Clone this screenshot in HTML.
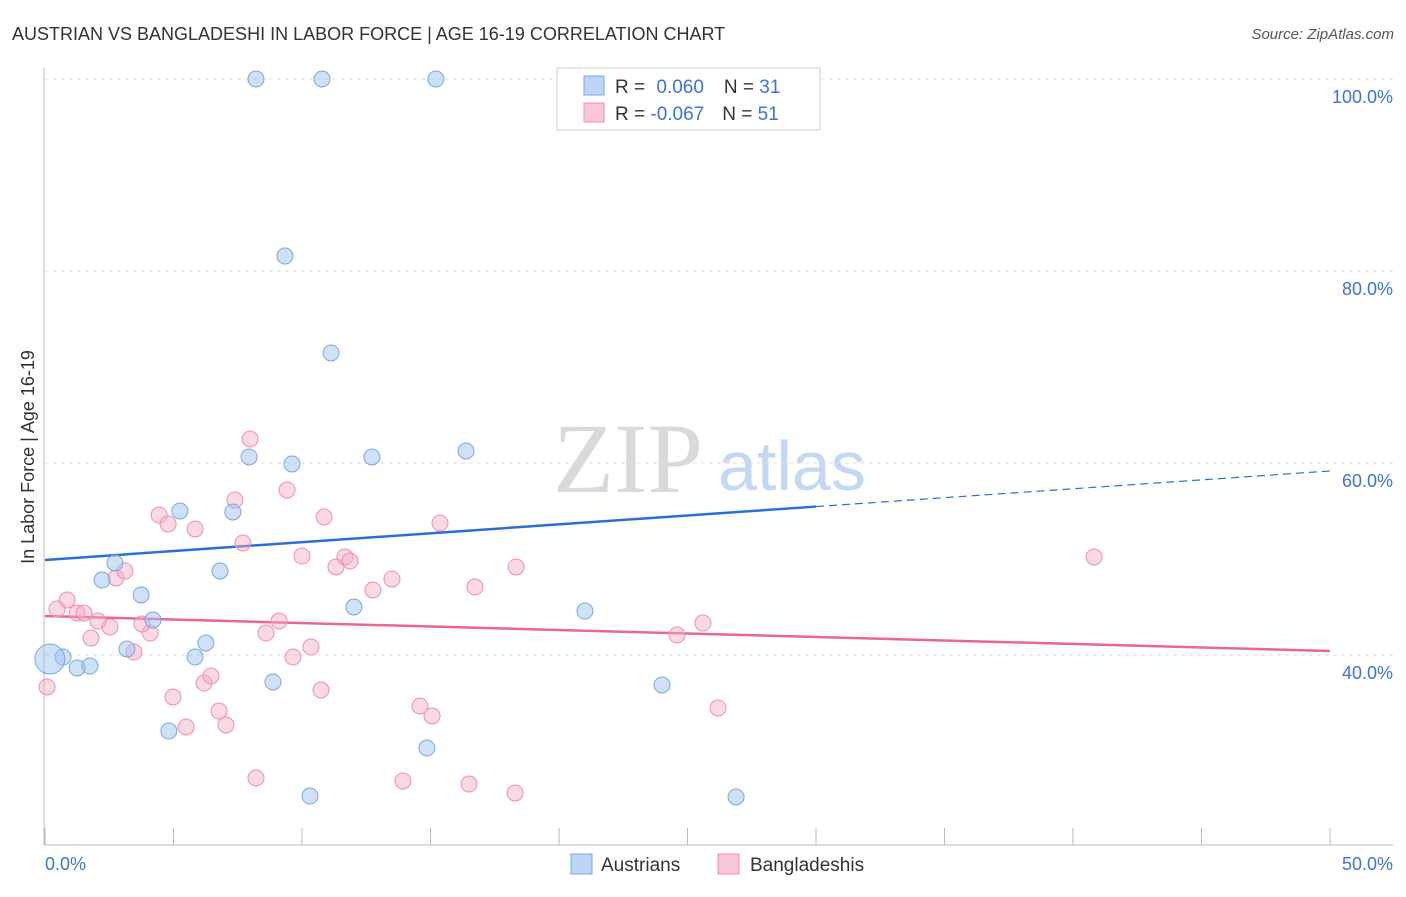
<!DOCTYPE html>
<html><head><meta charset="utf-8">
<style>
body{margin:0;background:#fff;font-family:"Liberation Sans",sans-serif;}
svg text{font-family:"Liberation Sans",sans-serif;}
</style></head>
<body>
<svg id="chart" width="1406" height="892" viewBox="0 0 1406 892" xmlns="http://www.w3.org/2000/svg">
<text x="12" y="40" font-size="18" fill="#333">AUSTRIAN VS BANGLADESHI IN LABOR FORCE | AGE 16-19 CORRELATION CHART</text>
<text x="1394" y="39" font-size="15" fill="#555" font-style="italic" text-anchor="end">Source: ZipAtlas.com</text>
<text x="34" y="457" font-size="18" fill="#333" text-anchor="middle" transform="rotate(-90 34 457)">In Labor Force | Age 16-19</text>
<g>
<text x="553" y="492" font-size="100" fill="#d9d9d9" style="font-family:'Liberation Serif',serif">ZIP</text>
<text x="718" y="490" font-size="70" fill="#c5d8f3">atlas</text>
</g>
<g id="grid"></g>
<g id="axes"></g>
<g id="trends"></g>
<g id="points"></g>
<g>
<rect x="557" y="68" width="263" height="62" fill="#fff" stroke="#ccc"/>
<rect x="584" y="76" width="20" height="19" fill="#bcd4f5" stroke="#7aa6e0"/>
<rect x="584" y="103" width="20" height="19" fill="#f9c6d5" stroke="#ee8fae"/>
<text x="615" y="93" font-size="19" fill="#333">R = <tspan fill="#3b73d6" dx="6">0.060</tspan><tspan dx="20">N = </tspan><tspan fill="#3b73d6">31</tspan></text>
<text x="615" y="120" font-size="19" fill="#333">R = <tspan fill="#3b73d6">-0.067</tspan><tspan dx="18">N = </tspan><tspan fill="#3b73d6">51</tspan></text>
</g>
<g>
<rect x="571" y="854" width="21" height="20" fill="#bcd4f5" stroke="#7aa6e0"/>
<text x="601" y="871" font-size="19" fill="#333">Austrians</text>
<rect x="718" y="854" width="21" height="20" fill="#f9c6d5" stroke="#ee8fae"/>
<text x="750" y="871" font-size="19" fill="#333">Bangladeshis</text>
</g>
</svg>
<script>
const yTicks=[40,60,80,100];
const yTickLabels=["40.0%","60.0%","80.0%","100.0%"];
const xTickLabels=["0.0%","50.0%"];
const blueX=[8.21,10.78,15.21,9.34,11.13,16.38,7.94,9.61,12.72,5.25,7.31,2.72,6.81,2.22,3.74,12.02,21.01,4.20,6.26,3.19,0.70,0.19,1.25,1.75,5.84,8.87,24.01,4.82,14.86,10.31,26.89];
const blueY=[100,100,100,81.56,71.46,61.25,60.63,59.9,60.63,55.0,54.9,49.58,48.75,47.81,46.25,45.0,44.58,43.65,41.25,40.63,39.79,39.58,38.65,38.85,39.79,37.19,36.88,32.08,30.31,25.31,25.21];
const blueSize=[1,1,1,1,1,1,1,1,1,1,1,1,1,1,1,1,1,1,1,1,1,2,1,1,1,1,1,1,1,1,1];
const pinkX=[7.98,7.39,9.42,4.44,4.79,5.84,10.86,15.37,7.70,10.0,11.67,11.87,11.32,18.33,40.82,2.76,3.11,0.86,0.47,1.25,1.52,2.53,2.06,4.09,3.77,9.11,8.60,16.73,13.50,12.76,1.79,3.46,10.35,9.65,25.60,24.59,6.19,6.46,4.98,10.74,0.08,6.77,14.59,15.06,26.19,7.04,5.49,8.21,13.93,16.50,18.29];
const pinkY=[62.5,56.15,57.19,54.58,53.65,53.13,54.38,53.75,51.67,50.31,50.21,49.79,49.17,49.17,50.21,48.02,48.75,45.73,44.79,44.38,44.38,42.92,43.54,42.29,43.23,43.54,42.29,47.08,47.92,46.77,41.77,40.31,40.83,39.79,43.33,42.08,37.08,37.81,35.63,36.35,36.67,34.17,34.69,33.65,34.48,32.71,32.5,27.19,26.88,26.56,25.63];
const blueTrend=[49.9,59.17];
const pinkTrend=[44.06,40.42];
const blueSolidEnd=30;

const NS="http://www.w3.org/2000/svg";
const xs=v=>45+v*(1285/50);
const ys=v=>79+(100-v)*9.6;
function mk(t,a,p){const e=document.createElementNS(NS,t);for(const k in a)e.setAttribute(k,a[k]);p.appendChild(e);return e;}
const grid=document.getElementById('grid'),axes=document.getElementById('axes'),tr=document.getElementById('trends'),pts=document.getElementById('points');
yTicks.forEach((t,i)=>{
 const l=mk('line',{x1:45,x2:1393,y1:ys(t),y2:ys(t),stroke:'#ddd','stroke-dasharray':'4 4'},grid);
 
 
 const tx=mk('text',{x:1393,y:ys(t)+24,'font-size':18,fill:'#3b73d6','text-anchor':'end'},axes);
 tx.textContent=yTickLabels[i];
 
 
});
const ax=mk('line',{x1:44,x2:44,y1:68,y2:845,stroke:'#bbb'},axes);


const bx=mk('line',{x1:44,x2:1393,y1:845,y2:845,stroke:'#bbb'},axes);


for(let i=0;i<=10;i++){
 const t=mk('line',{x1:xs(i*5),x2:xs(i*5),y1:828,y2:845,stroke:'#bbb'},axes);
 
 
}
[[0,'start',45],[50,'end',1393]].forEach((d,i)=>{
 const t=mk('text',{x:d[2],y:870,'font-size':18,fill:'#3b73d6','text-anchor':d[1]},axes);
 t.textContent=xTickLabels[i];
 
 
});
const tv=(tp,x)=>tp[0]+(tp[1]-tp[0])*x/50;
let l1=mk('line',{x1:xs(0),y1:ys(tv(blueTrend,0)),x2:xs(blueSolidEnd),y2:ys(tv(blueTrend,blueSolidEnd)),stroke:'#2c6fd1','stroke-width':2.5},tr);


let l2=mk('line',{x1:xs(blueSolidEnd),y1:ys(tv(blueTrend,blueSolidEnd)),x2:xs(50),y2:ys(tv(blueTrend,50)),stroke:'#2c6fd1','stroke-width':1.2,'stroke-dasharray':'8 5'},tr);


let l3=mk('line',{x1:xs(0),y1:ys(tv(pinkTrend,0)),x2:xs(50),y2:ys(tv(pinkTrend,50)),stroke:'#e8669a','stroke-width':2.5},tr);


pinkX.forEach((x,i)=>{
 const c=mk('circle',{cx:xs(x),cy:ys(pinkY[i]),r:8,fill:'rgba(245,170,195,0.45)',stroke:'#ee8fae','stroke-width':1},pts);
 
 
});
blueX.forEach((x,i)=>{
 const c=mk('circle',{cx:xs(x),cy:ys(blueY[i]),r:blueSize[i]>1?15:8,fill:'rgba(160,195,240,0.5)',stroke:'#7aa6e0','stroke-width':1},pts);
 
 
});
</script>
</body></html>
